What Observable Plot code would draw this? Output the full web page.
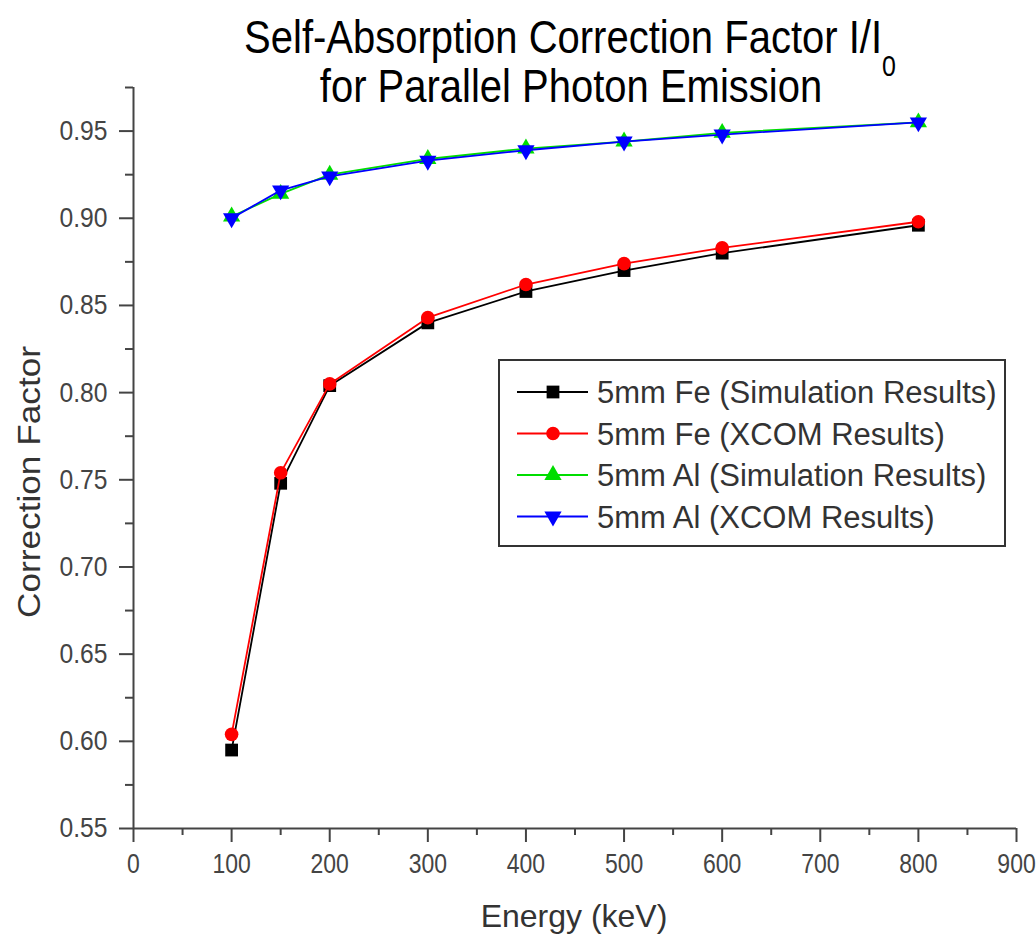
<!DOCTYPE html>
<html>
<head>
<meta charset="utf-8">
<script src="https://cdn.jsdelivr.net/npm/d3@7"></script>
<script src="https://cdn.jsdelivr.net/npm/@observablehq/plot@0.6"></script>
<style>
  html, body { margin: 0; padding: 0; background: #fff; }
  #chart { width: 1036px; height: 936px; }
</style>
</head>
<body>
<div id="chart"></div>
<script>
// ---- data ----
const energy = [100, 150, 200, 300, 400, 500, 600, 800];
const feSim  = [0.595, 0.748, 0.804, 0.840, 0.858, 0.870, 0.880, 0.896];
const feXcom = [0.604, 0.754, 0.805, 0.843, 0.862, 0.874, 0.883, 0.898];
const alSim  = [0.901, 0.914, 0.925, 0.934, 0.940, 0.944, 0.949, 0.955];
const alXcom = [0.900, 0.916, 0.924, 0.933, 0.939, 0.944, 0.948, 0.955];
const seriesNames = [
  "5mm Fe (Simulation Results)",
  "5mm Fe (XCOM Results)",
  "5mm Al (Simulation Results)",
  "5mm Al (XCOM Results)"
];
const xMajorTicks = [0, 100, 200, 300, 400, 500, 600, 700, 800, 900];
const xMinorTicks = [50, 150, 250, 350, 450, 550, 650, 750, 850];
const yMajorTicks = [0.55, 0.60, 0.65, 0.70, 0.75, 0.80, 0.85, 0.90, 0.95];
const yMinorTicks = [0.575, 0.625, 0.675, 0.725, 0.775, 0.825, 0.875, 0.925, 0.975];
const titleLine1 = "Self-Absorption Correction Factor I/I";
const titleSub = "0";
const titleLine2 = "for Parallel Photon Emission";
const xLabel = "Energy (keV)";
const yLabel = "Correction Factor";

// ---- styles ----
const colors = ["#000000", "#ff0000", "#00dd00", "#0000ff"];
const triangleDown = {
  draw(ctx, size) {
    const y = Math.sqrt(size / (Math.sqrt(3) * 3));
    ctx.moveTo(0, 2 * y);
    ctx.lineTo(-Math.sqrt(3) * y, -y);
    ctx.lineTo(Math.sqrt(3) * y, -y);
    ctx.closePath();
  }
};
const symbols = [d3.symbolSquare, d3.symbolCircle, d3.symbolTriangle, triangleDown];
const radii = [7.2, 6.8, 6.4, 6.4];

const valuesList = [feSim, feXcom, alSim, alXcom];
const rows = valuesList.map((vals, s) => energy.map((e, i) => ({energy: e, value: vals[i], s})));

const axisColor = "#444";
const font = "'Liberation Sans', Arial, sans-serif";

const marks = [
  Plot.ruleX([0], {stroke: axisColor, strokeWidth: 2}),
  Plot.ruleY([0.55], {stroke: axisColor, strokeWidth: 2}),
  Plot.axisX({ticks: xMajorTicks, tickSize: 14, tickPadding: 11, color: axisColor, strokeWidth: 2, label: null, fontSize: 28, tickFormat: d3.format("d")}),
  Plot.axisX({ticks: xMinorTicks, tickSize: 7, color: axisColor, strokeWidth: 2, label: null, tickFormat: () => ""}),
  Plot.axisY({ticks: yMajorTicks, tickSize: 14, tickPadding: 12, color: axisColor, strokeWidth: 2, label: null, fontSize: 28, tickFormat: d3.format(".2f")}),
  Plot.axisY({ticks: yMinorTicks, tickSize: 8, color: axisColor, strokeWidth: 2, label: null, tickFormat: () => ""})
];
rows.forEach((r, s) => {
  marks.push(Plot.line(r, {x: "energy", y: "value", stroke: colors[s], strokeWidth: 1.8}));
  marks.push(Plot.dot(r, {x: "energy", y: "value", symbol: symbols[s], r: radii[s], fill: colors[s], stroke: "none"}));
});

const plot = Plot.plot({
  width: 1036,
  height: 936,
  marginLeft: 133,
  marginRight: 20,
  marginTop: 87,
  marginBottom: 108,
  style: {fontFamily: font, background: "#fff", color: "#000", overflow: "visible"},
  x: {domain: [0, 900]},
  y: {domain: [0.55, 0.975]},
  marks
});
document.getElementById("chart").appendChild(plot);

// compress tick labels horizontally like the (vertically stretched) original
const svg = d3.select(plot);
svg.selectAll("[aria-label='x-axis tick label'] text").each(function() {
  const l = this.getComputedTextLength();
  if (l > 0) { this.setAttribute("textLength", l * 0.82); this.setAttribute("lengthAdjust", "spacingAndGlyphs"); }
});
svg.selectAll("[aria-label='y-axis tick label'] text").each(function() {
  const l = this.getComputedTextLength();
  if (l > 0) { this.setAttribute("textLength", l * 0.88); this.setAttribute("lengthAdjust", "spacingAndGlyphs"); }
});

// title (slightly stretched vertically)
const t1 = svg.append("text")
  .attr("transform", "translate(570,53) scale(1,1.15)")
  .attr("text-anchor", "middle")
  .attr("font-family", font).attr("font-size", 40).attr("fill", "#000");
t1.append("tspan").text(titleLine1);
t1.append("tspan").attr("font-size", 25).attr("dy", 20).text(titleSub);
svg.append("text")
  .attr("transform", "translate(571,102) scale(1,1.15)")
  .attr("text-anchor", "middle")
  .attr("font-family", font).attr("font-size", 40).attr("fill", "#000")
  .text(titleLine2);

// axis labels
svg.append("text")
  .attr("x", 574).attr("y", 927)
  .attr("text-anchor", "middle")
  .attr("font-family", font).attr("font-size", 32).attr("fill", "#333")
  .text(xLabel);
const yl = svg.append("text")
  .attr("transform", "translate(40,482) rotate(-90)")
  .attr("text-anchor", "middle")
  .attr("font-family", font).attr("font-size", 32).attr("fill", "#333")
  .attr("textLength", 272).attr("lengthAdjust", "spacingAndGlyphs")
  .text(yLabel);

// legend
const lg = svg.append("g").attr("aria-label", "legend");
lg.append("rect")
  .attr("x", 499).attr("y", 360).attr("width", 506).attr("height", 186)
  .attr("fill", "#fff").attr("stroke", "#333").attr("stroke-width", 2);
const rowBase = [403, 444.5, 486, 527.5];
seriesNames.forEach((name, s) => {
  const cy = rowBase[s] - 11;
  lg.append("line")
    .attr("x1", 517).attr("x2", 588).attr("y1", cy).attr("y2", cy)
    .attr("stroke", colors[s]).attr("stroke-width", 1.8);
  lg.append("path")
    .attr("transform", `translate(553,${cy})`)
    .attr("d", d3.symbol(symbols[s], Math.PI * radii[s] * radii[s])())
    .attr("fill", colors[s]);
  lg.append("text")
    .attr("x", 597).attr("y", rowBase[s])
    .attr("text-anchor", "start")
    .attr("font-family", font).attr("font-size", 31).attr("fill", "#333")
    .text(name);
});
</script>
</body>
</html>
